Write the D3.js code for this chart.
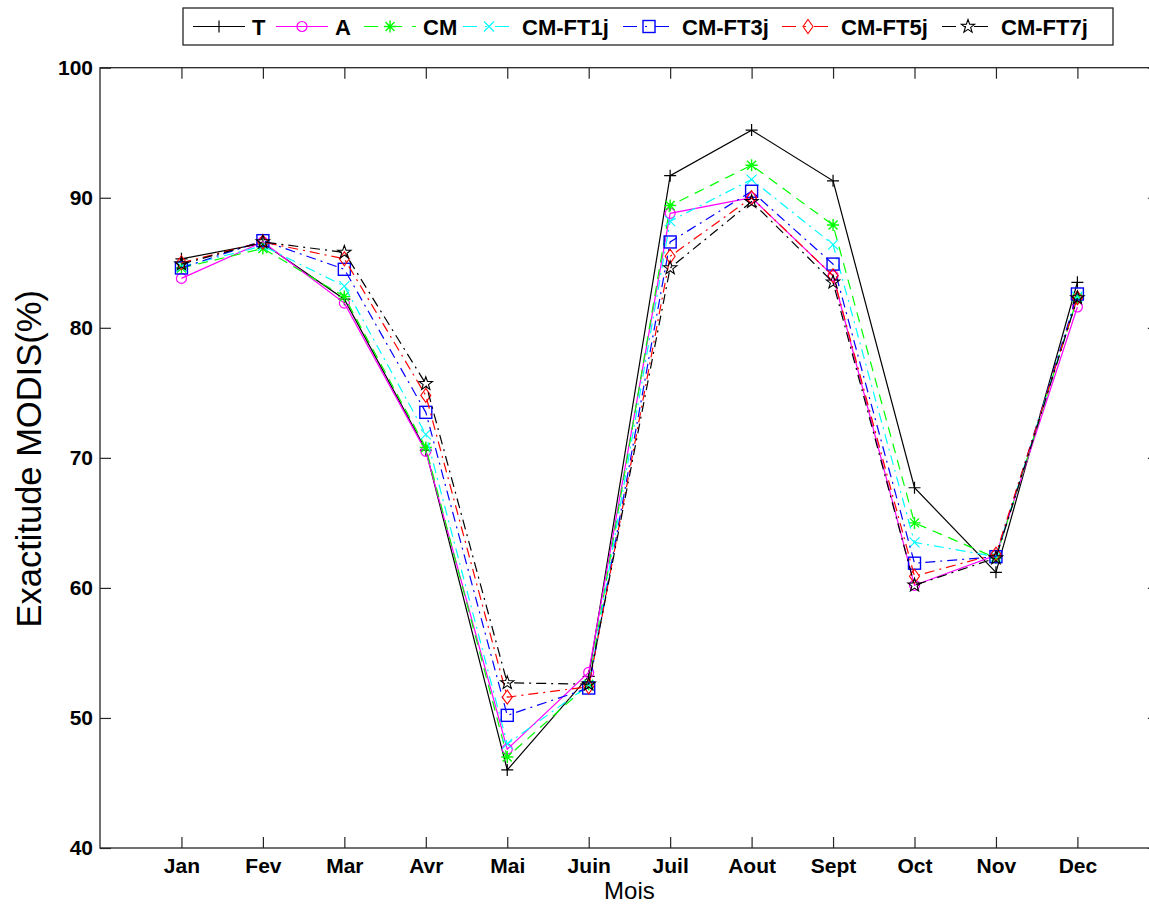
<!DOCTYPE html>
<html>
<head>
<meta charset="utf-8">
<script src="https://cdn.jsdelivr.net/npm/d3@7"></script>
<style>
  body { margin: 0; background: #fff; }
  svg { display: block; font-family: "Liberation Sans", Arial, sans-serif; }
</style>
</head>
<body>
<svg id="chart" width="1149" height="905"></svg>
<script>
// Monthly MODIS accuracy (%) per processing variant
const months = ["Jan", "Fev", "Mar", "Avr", "Mai", "Juin", "Juil", "Aout", "Sept", "Oct", "Nov", "Dec"];
const yTicks = [40, 50, 60, 70, 80, 90, 100];

const valuesT      = [85.3, 86.5, 82.2, 70.6, 46.0, 53.2, 91.7, 95.2, 91.3, 67.7, 61.2, 83.5];
const valuesA      = [83.8, 86.6, 81.9, 70.5, 47.6, 53.5, 88.8, 90.0, 84.0, 60.2, 62.5, 81.6];
const valuesCM     = [84.6, 86.1, 82.4, 70.8, 47.0, 52.6, 89.4, 92.5, 87.9, 65.0, 62.3, 82.3];
const valuesFT1j   = [84.7, 86.3, 83.2, 71.8, 48.0, 52.5, 88.2, 91.4, 86.4, 63.5, 62.4, 82.4];
const valuesFT3j   = [84.6, 86.7, 84.5, 73.5, 50.2, 52.3, 86.6, 90.5, 84.9, 61.9, 62.4, 82.6];
const valuesFT5j   = [85.0, 86.6, 85.3, 74.8, 51.6, 52.4, 85.5, 90.0, 84.0, 60.9, 62.6, 82.3];
const valuesFT7j   = [84.9, 86.6, 85.8, 75.7, 52.7, 52.6, 84.6, 89.7, 83.5, 60.2, 62.3, 82.3];

const seriesNames  = ["T", "A", "CM", "CM-FT1j", "CM-FT3j", "CM-FT5j", "CM-FT7j"];
const seriesValues = [valuesT, valuesA, valuesCM, valuesFT1j, valuesFT3j, valuesFT5j, valuesFT7j];
const seriesColors = ["#000000", "#ff00ff", "#00ff00", "#00ffff", "#0000ff", "#ff0000", "#000000"];
const seriesDash   = [null, null, "10,7", "10,5,2,5", "10,5,2,5", "10,5,2,5", "10,5,2,5"];
const seriesMarker = ["plus", "circle", "asterisk", "cross", "square", "diamond", "star"];

const svg = d3.select("#chart");
const plotLeft = 100, plotTop = 67.7, plotBottom = 848, plotRight = 100 + 13 * 81.45;

const x = d3.scaleLinear().domain([0, 13]).range([plotLeft, plotRight]);
const y = d3.scaleLinear().domain([40, 100]).range([plotBottom, plotTop]);

const axisColor = "#262626";
const tickLen = 11;
const labelFont = "'Liberation Sans', Arial, sans-serif";

// frame
svg.append("rect")
  .attr("x", plotLeft).attr("y", plotTop)
  .attr("width", plotRight - plotLeft).attr("height", plotBottom - plotTop)
  .attr("fill", "none").attr("stroke", axisColor).attr("stroke-width", 1.3);

// axes: ticks pointing inward, labels only on left and bottom
const yAxis = d3.axisLeft(y).tickValues(yTicks).tickSizeInner(-tickLen).tickSizeOuter(0).tickPadding(7);
const gy = svg.append("g").attr("transform", `translate(${plotLeft},0)`).call(yAxis);
const xAxis = d3.axisBottom(x).tickValues(d3.range(1, 13)).tickFormat(d => months[d - 1])
  .tickSizeInner(-tickLen).tickSizeOuter(0).tickPadding(10);
const gx = svg.append("g").attr("transform", `translate(0,${plotBottom})`).call(xAxis);
const gyr = svg.append("g").attr("transform", `translate(${plotRight},0)`)
  .call(d3.axisRight(y).tickValues(yTicks).tickSizeInner(-tickLen).tickSizeOuter(0).tickFormat(""));
const gxt = svg.append("g").attr("transform", `translate(0,${plotTop})`)
  .call(d3.axisTop(x).tickValues(d3.range(1, 13)).tickSizeInner(-tickLen).tickSizeOuter(0).tickFormat(""));

[gy, gx, gyr, gxt].forEach(g => {
  g.select(".domain").remove();
  g.selectAll(".tick line").attr("stroke", axisColor).attr("stroke-width", 1.2);
  g.selectAll(".tick text").attr("fill", "#000").attr("font-size", 21).attr("font-weight", "bold")
    .attr("font-family", labelFont);
});

// axis titles
svg.append("text")
  .attr("x", x(6.5)).attr("y", 899)
  .attr("text-anchor", "middle").attr("font-size", 24).text("Mois");
svg.append("text")
  .attr("transform", `translate(41,${(plotTop + plotBottom) / 2 + 1}) rotate(-90)`)
  .attr("text-anchor", "middle").attr("font-size", 34.5).text("Exactitude MODIS(%)");

// marker drawing
function drawMarker(g, type, cx, cy, color) {
  const s = 5;
  if (type === "plus") {
    g.append("path").attr("d", `M${cx - 6},${cy}H${cx + 6}M${cx},${cy - 6}V${cy + 6}`)
      .attr("stroke", color).attr("stroke-width", 1.2).attr("fill", "none");
  } else if (type === "circle") {
    g.append("circle").attr("cx", cx).attr("cy", cy).attr("r", 5)
      .attr("stroke", color).attr("stroke-width", 1.2).attr("fill", "none");
  } else if (type === "asterisk") {
    const d = 4.5;
    g.append("path").attr("d",
      `M${cx - 6},${cy}H${cx + 6}M${cx},${cy - 6}V${cy + 6}M${cx - d},${cy - d}L${cx + d},${cy + d}M${cx - d},${cy + d}L${cx + d},${cy - d}`)
      .attr("stroke", color).attr("stroke-width", 1.4).attr("fill", "none");
  } else if (type === "cross") {
    g.append("path").attr("d", `M${cx - s},${cy - s}L${cx + s},${cy + s}M${cx - s},${cy + s}L${cx + s},${cy - s}`)
      .attr("stroke", color).attr("stroke-width", 1.1).attr("fill", "none");
  } else if (type === "square") {
    g.append("rect").attr("x", cx - 6).attr("y", cy - 6).attr("width", 12).attr("height", 12)
      .attr("stroke", color).attr("stroke-width", 1.4).attr("fill", "none");
  } else if (type === "diamond") {
    g.append("path").attr("d", `M${cx},${cy - 7}L${cx + 5},${cy}L${cx},${cy + 7}L${cx - 5},${cy}Z`)
      .attr("stroke", color).attr("stroke-width", 1.1).attr("fill", "none");
  } else if (type === "star") {
    const pts = [];
    for (let i = 0; i < 10; i++) {
      const r = i % 2 === 0 ? 7 : 2.8;
      const a = -Math.PI / 2 + i * Math.PI / 5;
      pts.push([cx + r * Math.cos(a), cy + r * Math.sin(a)]);
    }
    g.append("path").attr("d", "M" + pts.map(p => p.join(",")).join("L") + "Z")
      .attr("stroke", color).attr("stroke-width", 1.1).attr("fill", "none");
  }
}

// series lines and markers
const line = d3.line().x((d, i) => x(i + 1)).y(d => y(d));
const plot = svg.append("g");
seriesValues.forEach((vals, k) => {
  const g = plot.append("g");
  g.append("path").datum(vals)
    .attr("d", line).attr("fill", "none")
    .attr("stroke", seriesColors[k]).attr("stroke-width", 1.2)
    .attr("stroke-dasharray", seriesDash[k]);
  vals.forEach((v, i) => drawMarker(g, seriesMarker[k], x(i + 1), y(v), seriesColors[k]));
});

// legend
const legend = svg.append("g");
legend.append("rect").attr("x", 183).attr("y", 8).attr("width", 930).attr("height", 37)
  .attr("fill", "#fff").attr("stroke", axisColor).attr("stroke-width", 1.3);
const legendStarts = [193, 276, 364, 463, 623, 782, 942];
seriesNames.forEach((name, k) => {
  const x0 = legendStarts[k], x1 = x0 + 52, cy = 26.5;
  legend.append("line").attr("x1", x0).attr("x2", x1).attr("y1", cy).attr("y2", cy)
    .attr("stroke", seriesColors[k]).attr("stroke-width", 1.2)
    .attr("stroke-dasharray", seriesDash[k] ? (k === 2 ? "14,10" : "14,8,2,8") : null);
  drawMarker(legend, seriesMarker[k], (x0 + x1) / 2, cy, seriesColors[k]);
  legend.append("text").attr("x", x1 + 7).attr("y", cy + 8)
    .attr("font-size", 22).attr("font-weight", "bold").attr("fill", "#000").text(name);
});
</script>
</body>
</html>
